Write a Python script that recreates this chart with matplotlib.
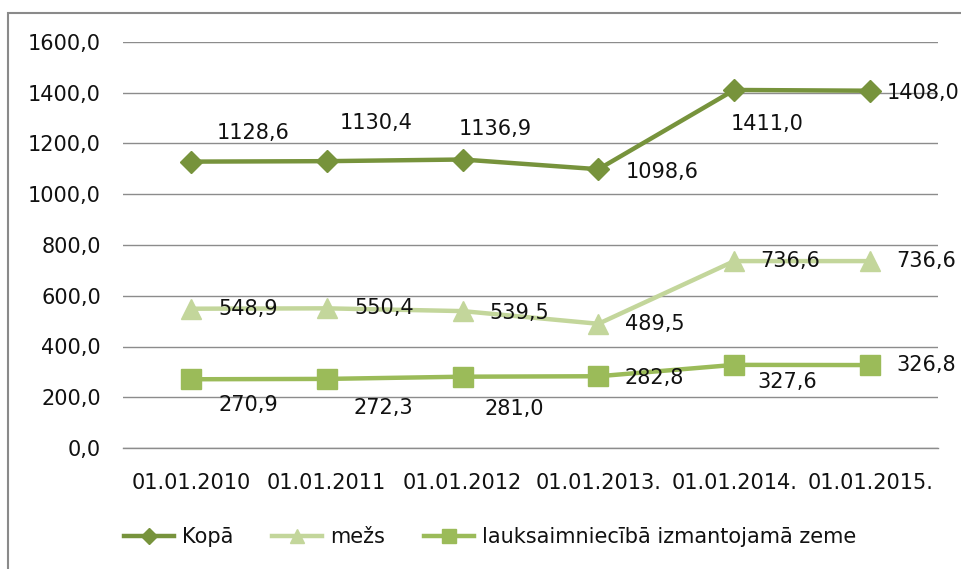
import numpy as np
import matplotlib.pyplot as plt
from matplotlib.patches import Rectangle

# data
dates = ['01.01.2010', '01.01.2011', '01.01.2012', '01.01.2013.', '01.01.2014.', '01.01.2015.']
kopa = [1128.6, 1130.4, 1136.9, 1098.6, 1411.0, 1408.0]
mezs = [548.9, 550.4, 539.5, 489.5, 736.6, 736.6]
lauks = [270.9, 272.3, 281.0, 282.8, 327.6, 326.8]
y_ticks = [0, 200, 400, 600, 800, 1000, 1200, 1400, 1600]

# label offsets in pixels (where Excel put each data label)
kopa_off = [(62, 29), (49, 38), (33, 31), (64, -3), (33, -34), (53, -2)]
mezs_off = [(57, 0), (57, 0), (57, -2), (56, 0), (56, 0), (56, 0)]
lauks_off = [(57, -26), (57, -29), (52, -32), (56, -2), (53, -17), (56, 0)]

plt.rcParams['font.family'] = ['DejaVu Sans']
fs = 15

fig = plt.figure(figsize=(9.61, 5.69), dpi=100)
ax = fig.add_axes([123/961, 1-448/569, (938-123)/961, (448-42)/569])

x = np.arange(len(dates))
series = [
    (kopa, 'Kopā', '#77933C', 'D', 11, kopa_off),
    (mezs, 'mežs', '#C3D69B', '^', 15, mezs_off),
    (lauks, 'lauksaimniecībā izmantojamā zeme', '#9BBB59', 's', 14, lauks_off),
]
for vals, name, col, mk, ms, offs in series:
    ax.plot(x, vals, color=col, lw=3.2, marker=mk, markersize=ms, label=name, zorder=3)
    for xi, v, (dx, dy) in zip(x, vals, offs):
        ax.annotate('{:.1f}'.format(v).replace('.', ','), (xi, v),
                    xytext=(dx, dy), textcoords='offset pixels',
                    ha='center', va='center', fontsize=fs, color='#111111', zorder=4)

ax.set_xlim(-0.5, len(dates) - 0.5)
ax.set_ylim(0, 1600)
ax.set_yticks(y_ticks)
ax.set_yticklabels(['{:.1f}'.format(t).replace('.', ',') for t in y_ticks])
ax.set_xticks(x)
ax.set_xticklabels(dates)
ax.tick_params(axis='both', length=0, labelsize=fs, labelcolor='#111111')
ax.tick_params(axis='y', pad=16)
ax.tick_params(axis='x', pad=18)
ax.grid(axis='y', color='#8c8c8c', lw=1)
ax.set_axisbelow(True)
for s in ['top', 'left', 'right']:
    ax.spines[s].set_visible(False)
ax.spines['bottom'].set_color('#8c8c8c')
ax.spines['bottom'].set_linewidth(1)

leg = fig.legend(loc='center', bbox_to_anchor=(490/961, 1-537/569), ncol=3,
                 frameon=False, fontsize=fs, handlelength=2.4, handletextpad=0.35,
                 columnspacing=1.9, markerscale=0.7)
for t in leg.get_texts():
    t.set_color('#111111')

# outer chart border (left and top visible)
fig.patches.append(Rectangle((8/961, -0.1), 1.2, 1 - 13/569 + 0.1,
                             transform=fig.transFigure, fill=False,
                             edgecolor='#8a8a8a', lw=1.5))

fig.savefig('out.png', dpi=100)
